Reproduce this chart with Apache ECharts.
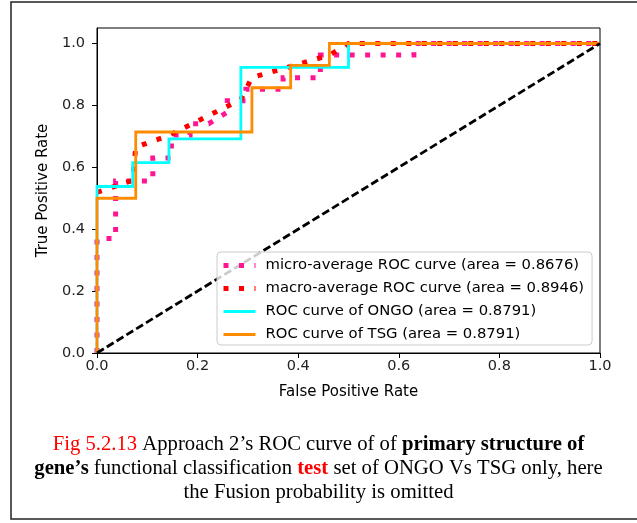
<!DOCTYPE html>
<html>
<head>
<meta charset="utf-8">
<script src="https://cdn.jsdelivr.net/npm/echarts@6/dist/echarts.min.js"></script>
<style>
  html, body { margin: 0; padding: 0; background: #fff; }
  #chart { width: 637px; height: 523px; }
</style>
</head>
<body>
<div id="chart"></div>
<script>
// ---- Data ----
const seriesNames = [
  'micro-average ROC curve (area = 0.8676)',
  'macro-average ROC curve (area = 0.8946)',
  'ROC curve of ONGO (area = 0.8791)',
  'ROC curve of TSG (area = 0.8791)'
];

const microFpr = [0, 0, 0.037, 0.037, 0.111, 0.111, 0.148, 0.148, 0.185, 0.185, 0.222, 0.259, 0.259, 0.296, 0.296, 0.370, 0.370, 0.444, 0.444, 0.630, 0.630, 1];
const microTpr = [0, 0.370, 0.370, 0.556, 0.556, 0.630, 0.630, 0.704, 0.704, 0.741, 0.741, 0.778, 0.815, 0.815, 0.852, 0.852, 0.889, 0.889, 0.963, 0.963, 1, 1];

const macroFpr = [0, 0.071, 0.077, 0.143, 0.286, 0.308, 0.385, 0.462, 0.5, 1];
const macroTpr = [0.519, 0.558, 0.665, 0.703, 0.819, 0.890, 0.926, 0.962, 1, 1];

const ongoFpr = [0, 0, 0.071, 0.071, 0.143, 0.143, 0.286, 0.286, 0.5, 0.5, 1];
const ongoTpr = [0, 0.538, 0.538, 0.615, 0.615, 0.692, 0.692, 0.923, 0.923, 1, 1];

const tsgFpr = [0, 0, 0.077, 0.077, 0.308, 0.308, 0.385, 0.385, 0.462, 0.462, 1];
const tsgTpr = [0, 0.5, 0.5, 0.714, 0.714, 0.857, 0.857, 0.929, 0.929, 1, 1];

const chanceFpr = [0, 1];
const chanceTpr = [0, 1];

const xTicks = [0, 0.2, 0.4, 0.6, 0.8, 1.0];
const yTicks = [0, 0.2, 0.4, 0.6, 0.8, 1.0];

const xAxisName = 'False Positive Rate';
const yAxisName = 'True Positive Rate';

// ---- Build ----
function pairs(xs, ys) { return xs.map((x, i) => [x, ys[i]]); }

const chart = echarts.init(document.getElementById('chart'), null, { renderer: 'canvas' });
const sans = 'DejaVu Sans';
const serif = 'Liberation Serif';
const capFs = 20.7;
const dotted = [5, 10.5];

const option = {
  animation: false,
  backgroundColor: '#fff',
  title: {
    left: 'center',
    top: 428,
    text: '{r|Fig 5.2.13} Approach 2\u2019s ROC curve of of {b|primary structure of}\n{b|gene\u2019s} functional classification {rb|test} set of ONGO Vs TSG only, here\nthe Fusion probability is omitted',
    textStyle: {
      fontFamily: serif, fontSize: capFs, color: '#000', fontWeight: 'normal', lineHeight: 24,
      rich: {
        r: { color: '#ff0000', fontFamily: serif, fontSize: capFs, lineHeight: 24 },
        b: { color: '#000', fontWeight: 'bold', fontFamily: serif, fontSize: capFs, lineHeight: 24 },
        rb: { color: '#ff0000', fontWeight: 'bold', fontFamily: serif, fontSize: capFs, lineHeight: 24 }
      }
    }
  },
  graphic: [{
    type: 'rect', silent: true,
    shape: { x: 11, y: 2, width: 640, height: 517 },
    style: { fill: 'none', stroke: '#222', lineWidth: 1.5 }
  }],
  grid: { left: 97, top: 28, width: 503, height: 325, show: true, borderColor: '#000', borderWidth: 1, backgroundColor: 'transparent', containLabel: false },
  legend: {
    show: true,
    data: [
      { name: seriesNames[0], lineStyle: { width: 5, type: dotted, color: '#ff1493', cap: 'butt' } },
      { name: seriesNames[1], lineStyle: { width: 5, type: dotted, color: '#ff0000', cap: 'butt' } },
      { name: seriesNames[2], lineStyle: { width: 2.8, color: '#00ffff' } },
      { name: seriesNames[3], lineStyle: { width: 2.8, color: '#ff8c00' } }
    ],
    orient: 'vertical',
    left: 217,
    top: 252,
    itemWidth: 32,
    itemHeight: 14,
    itemGap: 8,
    padding: [6, 8, 3, 4],
    borderColor: '#cccccc',
    borderWidth: 1,
    borderRadius: 4,
    backgroundColor: 'rgba(255,255,255,0.8)',
    itemStyle: { color: 'rgba(0,0,0,0)', borderWidth: 0, borderColor: 'rgba(0,0,0,0)' },
    textStyle: { fontFamily: sans, fontSize: 14.8, color: '#000', padding: [0, 0, 0, 5] }
  },
  xAxis: {
    type: 'value', min: 0, max: 1, interval: 0.2,
    name: xAxisName, nameLocation: 'middle', nameGap: 32,
    nameTextStyle: { fontFamily: sans, fontSize: 15, color: '#000' },
    axisLine: { show: true, onZero: false, lineStyle: { color: '#000', width: 1 } },
    axisTick: { show: true, length: 5, inside: false, lineStyle: { color: '#000' }, customValues: xTicks },
    axisLabel: { fontFamily: sans, fontSize: 14.5, color: '#222', margin: 6, customValues: xTicks, formatter: v => v.toFixed(1) },
    splitLine: { show: false }
  },
  yAxis: {
    type: 'value', min: 0, max: 1.05,
    name: yAxisName, nameLocation: 'middle', nameGap: 43,
    nameTextStyle: { fontFamily: sans, fontSize: 15, color: '#000' },
    axisLine: { show: true, onZero: false, lineStyle: { color: '#000', width: 1 } },
    axisTick: { show: true, length: 5, inside: false, lineStyle: { color: '#000' }, customValues: yTicks },
    axisLabel: { fontFamily: sans, fontSize: 14.5, color: '#222', margin: 12, customValues: yTicks, formatter: v => v.toFixed(1) },
    splitLine: { show: false }
  },
  series: [
    {
      name: seriesNames[0], type: 'line', data: pairs(microFpr, microTpr),
      symbol: 'none', showSymbol: false, clip: true,
      lineStyle: { color: '#ff1493', width: 5, type: dotted, cap: 'butt', join: 'miter' },
      itemStyle: { color: '#ff1493' }
    },
    {
      name: seriesNames[1], type: 'line', data: pairs(macroFpr, macroTpr),
      symbol: 'none', showSymbol: false, clip: true,
      lineStyle: { color: '#ff0000', width: 5, type: dotted, cap: 'butt', join: 'miter' },
      itemStyle: { color: '#ff0000' }
    },
    {
      name: seriesNames[2], type: 'line', data: pairs(ongoFpr, ongoTpr),
      symbol: 'none', showSymbol: false, clip: true,
      lineStyle: { color: '#00ffff', width: 2.8, type: 'solid', join: 'miter' },
      itemStyle: { color: '#00ffff' }
    },
    {
      name: seriesNames[3], type: 'line', data: pairs(tsgFpr, tsgTpr),
      symbol: 'none', showSymbol: false, clip: true,
      lineStyle: { color: '#ff8c00', width: 2.8, type: 'solid', join: 'miter' },
      itemStyle: { color: '#ff8c00' }
    },
    {
      name: 'chance', type: 'line', data: pairs(chanceFpr, chanceTpr),
      symbol: 'none', showSymbol: false, clip: true,
      lineStyle: { color: '#000', width: 2.8, type: [8, 3.5], cap: 'butt' },
      itemStyle: { color: '#000' }
    }
  ]
};
chart.setOption(option);
</script>
</body>
</html>
